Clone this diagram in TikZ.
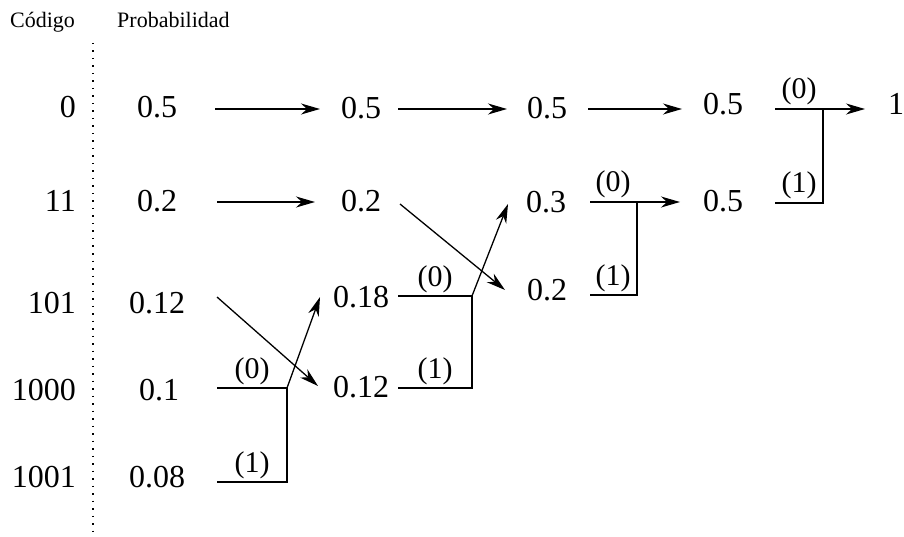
\documentclass[tikz,border=0pt]{standalone}
\usepackage{fontspec}
\setmainfont{Liberation Serif}
\newfontfamily\tms{Liberation Serif}
\usetikzlibrary{arrows.meta}
\begin{document}
\begin{tikzpicture}[x=1pt,y=-1pt,
  num/.style={inner sep=0pt,anchor=base,font=\tms\fontsize{32}{34}\selectfont},
  code/.style={inner sep=0pt,anchor=base east,font=\tms\fontsize{32}{34}\selectfont},
  head/.style={inner sep=0pt,anchor=base west,font=\tms\fontsize{22}{24}\selectfont},
  lab/.style={inner sep=0pt,anchor=base,font=\tms\fontsize{30}{32}\selectfont},
  ln/.style={line width=1.3pt},
  arr/.style={line width=1.3pt,-{Stealth[length=19pt,width=11pt,inset=6pt]}}]
\useasboundingbox (0,0) rectangle (904,537);
% headers
\node[head] (hcod) at (10,28) {Código};
\node[head] (hprob) at (117,28) {Probabilidad};
\coordinate (dtop) at (93,43);
\coordinate (dbot) at (93,537);
\draw[line width=1.2pt,dash pattern=on 1.5pt off 6pt] (dtop) -- (dbot);
% codes
\node[code] (k0) at (76,118) {0};
\node[code] (k1) at (76,212) {11};
\node[code] (k2) at (76,313) {101};
\node[code] (k3) at (76,400) {1000};
\node[code] (k4) at (76,487) {1001};
% column 1
\node[num] (a0) at (157,118) {0.5};
\node[num] (a1) at (157,212) {0.2};
\node[num] (a2) at (157,313) {0.12};
\node[num] (a3) at (159,400) {0.1};
\node[num] (a4) at (157,487) {0.08};
% column 2
\node[num] (b0) at (361,119) {0.5};
\node[num] (b1) at (361,212) {0.2};
\node[num] (b2) at (361,307) {0.18};
\node[num] (b3) at (361,397) {0.12};
% column 3
\node[num] (c0) at (547,119) {0.5};
\node[num] (c1) at (546,213) {0.3};
\node[num] (c2) at (547,300) {0.2};
% column 4
\node[num] (d0) at (723,115) {0.5};
\node[num] (d1) at (723,212) {0.5};
% final
\node[num] (f0) at (896,115) {1};
% straight arrows
\coordinate (r0a) at (215,109); \coordinate (r0b) at (320,109);
\coordinate (r0c) at (398,109); \coordinate (r0d) at (507,109);
\coordinate (r0e) at (588,109); \coordinate (r0f) at (682,109);
\coordinate (r1a) at (217,202); \coordinate (r1b) at (315,202);
\draw[arr] (r0a) -- (r0b);
\draw[arr] (r0c) -- (r0d);
\draw[arr] (r0e) -- (r0f);
\draw[arr] (r1a) -- (r1b);
% diagonals
\coordinate (g1s) at (400,204); \coordinate (g1e) at (505,290);
\coordinate (g2s) at (217,297); \coordinate (g2e) at (318,386);
\draw[arr] (g1s) -- (g1e);
\draw[arr] (g2s) -- (g2e);
% merge 1
\coordinate (s1t) at (217,388); \coordinate (m1t) at (287,388);
\coordinate (m1b) at (287,482); \coordinate (s1b) at (217,482);
\coordinate (e1) at (320,297);
\draw[ln] (s1t) -- (m1t) -- (m1b) -- (s1b);
\draw[arr] (m1t) -- (e1);
\node[lab] (l10) at (252,378) {(0)};
\node[lab] (l11) at (252,472) {(1)};
% merge 2
\coordinate (s2t) at (398,296); \coordinate (m2t) at (472,296);
\coordinate (m2b) at (472,388); \coordinate (s2b) at (398,388);
\coordinate (e2) at (508,204);
\draw[ln] (s2t) -- (m2t) -- (m2b) -- (s2b);
\draw[arr] (m2t) -- (e2);
\node[lab] (l20) at (435,286) {(0)};
\node[lab] (l21) at (435,378) {(1)};
% merge 3
\coordinate (s3t) at (590,202); \coordinate (m3t) at (637,202);
\coordinate (m3b) at (637,295); \coordinate (s3b) at (590,295);
\coordinate (e3) at (680,202);
\draw[ln] (m3t) -- (m3b) -- (s3b);
\draw[arr] (s3t) -- (e3);
\node[lab] (l30) at (613,192) {(0)};
\node[lab] (l31) at (613,285) {(1)};
% merge 4
\coordinate (s4t) at (775,109); \coordinate (m4t) at (823,109);
\coordinate (m4b) at (823,203); \coordinate (s4b) at (775,203);
\coordinate (e4) at (865,109);
\draw[ln] (m4t) -- (m4b) -- (s4b);
\draw[arr] (s4t) -- (e4);
\node[lab] (l40) at (799,99) {(0)};
\node[lab] (l41) at (799,193) {(1)};
\end{tikzpicture}
\end{document}
